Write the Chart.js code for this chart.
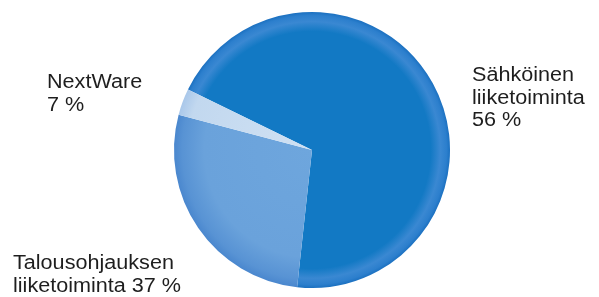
<!DOCTYPE html>
<html>
<head>
<meta charset="utf-8">
<script src="https://cdn.jsdelivr.net/npm/chart.js@4/dist/chart.umd.min.js"></script>
<style>
html,body{margin:0;padding:0;background:#fff;}
#wrap{position:relative;width:599px;height:297px;}
.lbl{position:absolute;font-family:"Liberation Sans",Arial,sans-serif;font-size:20px;line-height:22.5px;color:#1e1e1e;white-space:nowrap;transform:scaleX(1.08);transform-origin:0 0;}
</style>
</head>
<body>
<div id="wrap">
<canvas id="c" width="599" height="297"></canvas>
<div class="lbl" id="l0" style="left:472px;top:63px;"></div>
<div class="lbl" id="l1" style="left:13px;top:251px;"></div>
<div class="lbl" id="l2" style="left:47px;top:70px;"></div>
</div>
<script>
const categories = ["Sähköinen liiketoiminta", "Talousohjauksen liiketoiminta", "NextWare"];
const labelLines = [["Sähköinen", "liiketoiminta", "56 %"], ["Talousohjauksen", "liiketoiminta 37 %"], ["NextWare", "7 %"]];
// slice sizes as drawn in the picture (degrees converted to %)
const sliceValues = [69.5, 27.4, 3.1];
const sliceColors = ["#1279c4", "#6ca4dc", "#c6dbf1"];

labelLines.forEach((lines, i) => {
  document.getElementById("l" + i).innerHTML = lines.join("<br>");
});

const shading = [
  [[0, "#1279c4"], [0.86, "#1279c4"], [0.93, "#3a88d2"], [0.975, "#2c7fcd"], [1, "#1b70c0"]],
  [[0, "#6ea6dd"], [0.78, "#6aa2db"], [0.94, "#5893d4"], [1, "#4a87ce"]],
  [[0, "#d0e1f3"], [0.9, "#c2d8ef"], [1, "#aac8ea"]]
];

function sliceFill(ctx) {
  const chart = ctx.chart;
  const a = chart.chartArea;
  if (!a) return sliceColors[ctx.dataIndex];
  const cx = (a.left + a.right) / 2, cy = (a.top + a.bottom) / 2;
  const r = Math.min(a.right - a.left, a.bottom - a.top) / 2;
  const g = chart.ctx.createRadialGradient(cx, cy, 0, cx, cy, r);
  shading[ctx.dataIndex].forEach(s => g.addColorStop(s[0], s[1]));
  return g;
}

new Chart(document.getElementById("c"), {
  type: "pie",
  data: {
    labels: categories,
    datasets: [{
      data: sliceValues,
      backgroundColor: sliceFill,
      borderWidth: 0
    }]
  },
  options: {
    responsive: false,
    animation: false,
    rotation: 296,
    layout: { padding: { left: 174, right: 149, top: 12, bottom: 9 } },
    plugins: { legend: { display: false }, tooltip: { enabled: false } }
  }
});
</script>
</body>
</html>
